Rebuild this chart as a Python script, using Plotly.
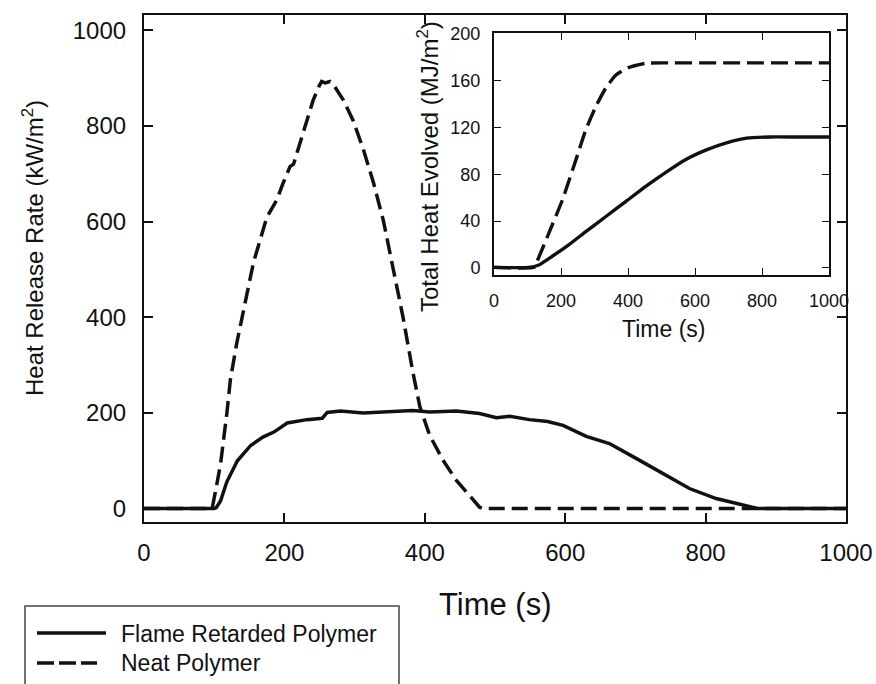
import plotly.graph_objects as go

# ---------------- data ----------------
series_names = ["Flame Retarded Polymer", "Neat Polymer"]

# Main chart: heat release rate (kW/m2) vs time (s)
time_fr = [0, 100, 103, 109, 118, 133, 152, 170, 185, 204, 232, 254, 261, 280, 312, 350,
           383, 407, 445, 478, 502, 521, 549, 575, 597, 630, 663, 701, 739, 777, 815, 848, 875, 1000]
hrr_fr = [0, 0, 2, 16, 56, 100, 132, 150, 160, 179, 186, 189, 201, 204, 200, 202,
          205, 202, 204, 199, 190, 193, 186, 182, 174, 151, 136, 105, 73, 42, 21, 9, 0, 0]

time_neat = [0, 97, 103, 109, 118, 123, 132, 142, 156, 175, 183, 189, 198, 208, 213, 227, 241,
             250, 253, 258, 265, 270, 284, 298, 312, 327, 341, 355, 369, 383, 393, 407, 426,
             445, 464, 478, 483, 1000]
hrr_neat = [0, 0, 45, 93, 199, 269, 345, 414, 515, 609, 630, 645, 680, 715, 720, 789, 854,
            885, 893, 890, 893, 886, 854, 811, 753, 681, 602, 501, 400, 285, 213, 153, 101,
            59, 28, 3, 0, 0]

# Inset: total heat evolved (MJ/m2) vs time (s)
time_the_fr = [0, 104, 134, 174, 224, 274, 334, 394, 454, 514, 574, 634, 694, 754, 824, 900, 1000]
the_fr = [0.5, 0.5, 2.6, 10, 20, 31, 44, 57, 70, 82, 93, 101, 107, 111, 112, 112, 112]

time_the_neat = [0, 120, 124, 164, 204, 244, 274, 304, 334, 364, 399, 454, 520, 700, 1000]
the_neat = [0.5, 0.5, 2.6, 30, 58, 92, 118, 138, 154, 165, 171, 175, 175.3, 175.3, 175.3]

main_xticks = [0, 200, 400, 600, 800, 1000]
main_yticks = [0, 200, 400, 600, 800, 1000]
inset_xticks = [0, 200, 400, 600, 800, 1000]
inset_yticks = [0, 40, 80, 120, 160, 200]

# ---------------- layout helpers ----------------
W, H = 876, 684
L, R, T, B = 144, 846, 15, 522


def px(x):
    return (x - L) / (R - L)


def py(y):
    return (B - y) / (B - T)


FONT = "Liberation Sans, Arial, Helvetica, sans-serif"
INK = "#111111"

fig = go.Figure()

fig.add_trace(go.Scatter(x=time_neat, y=hrr_neat, mode="lines", name=series_names[1],
                         line=dict(color=INK, width=3.5, dash="16px,7px"),
                         xaxis="x", yaxis="y", showlegend=False))
fig.add_trace(go.Scatter(x=time_fr, y=hrr_fr, mode="lines", name=series_names[0],
                         line=dict(color=INK, width=3.5),
                         xaxis="x", yaxis="y", showlegend=False))

fig.add_trace(go.Scatter(x=time_the_neat, y=the_neat, mode="lines", name=series_names[1],
                         line=dict(color=INK, width=3.4, dash="17px,7px", shape="spline",
                                   smoothing=0.5),
                         xaxis="x2", yaxis="y2", showlegend=False))
fig.add_trace(go.Scatter(x=time_the_fr, y=the_fr, mode="lines", name=series_names[0],
                         line=dict(color=INK, width=3.4, shape="spline", smoothing=0.5),
                         xaxis="x2", yaxis="y2", showlegend=False))

axis_common = dict(showline=True, linecolor=INK, mirror="ticks", ticks="inside",
                   tickcolor=INK, showgrid=False, zeroline=False, color=INK)

fig.update_layout(
    width=W, height=H,
    margin=dict(l=L, r=W - R, t=T, b=H - B, autoexpand=False),
    paper_bgcolor="white", plot_bgcolor="white",
    font=dict(family=FONT, color=INK),
    xaxis=dict(domain=[0, 1], range=[0, 1000], tickvals=main_xticks, linewidth=2.2,
               ticklen=9, tickwidth=1.5, tickfont=dict(size=24), ticklabelstandoff=8,
               anchor="y", **axis_common),
    yaxis=dict(domain=[0, 1], range=[-28, 1032], tickvals=main_yticks, linewidth=2.2,
               ticklen=9, tickwidth=1.5, tickfont=dict(size=24), ticklabelstandoff=11,
               anchor="x", **axis_common),
    xaxis2=dict(domain=[px(494), px(829)], range=[0, 1000], tickvals=inset_xticks,
                linewidth=2, ticklen=7, tickwidth=1.3, tickfont=dict(size=18),
                ticklabelstandoff=8, anchor="y2", **axis_common),
    yaxis2=dict(domain=[py(275), py(33.3)], range=[-6, 200.6], tickvals=inset_yticks,
                linewidth=2, ticklen=7, tickwidth=1.3, tickfont=dict(size=18),
                ticklabelstandoff=8, anchor="x2", **axis_common),
    showlegend=False,
)

annotations = [
    # main axis titles
    dict(text="Time (s)", x=px(495), y=py(604), xref="paper", yref="paper",
         xanchor="center", yanchor="middle", showarrow=False, font=dict(size=31)),
    dict(text="Heat Release Rate (kW/m<sup>2</sup>)", x=px(33), y=py(248), xref="paper",
         yref="paper", xanchor="center", yanchor="middle", textangle=-90, showarrow=False,
         font=dict(size=24)),
    # inset axis titles
    dict(text="Time (s)", x=px(663), y=py(329), xref="paper", yref="paper",
         xanchor="center", yanchor="middle", showarrow=False, font=dict(size=23)),
    dict(text="Total Heat Evolved (MJ/m<sup>2</sup>)", x=px(428), y=py(167), xref="paper",
         yref="paper", xanchor="center", yanchor="middle", textangle=-90, showarrow=False,
         font=dict(size=24)),
    # legend texts
    dict(text=series_names[0], x=px(119), y=py(634), xref="paper", yref="paper",
         xanchor="left", yanchor="middle", showarrow=False, font=dict(size=23)),
    dict(text=series_names[1], x=px(119), y=py(663), xref="paper", yref="paper",
         xanchor="left", yanchor="middle", showarrow=False, font=dict(size=23)),
]
fig.update_layout(annotations=annotations)

shapes = [
    # legend frame (runs off the bottom of the page, as in the reference)
    dict(type="rect", xref="paper", yref="paper", x0=px(25), x1=px(399), y0=py(720),
         y1=py(606), line=dict(color="#444444", width=1.5), fillcolor="rgba(0,0,0,0)"),
    # legend samples
    dict(type="line", xref="paper", yref="paper", x0=px(37), x1=px(106), y0=py(633),
         y1=py(633), line=dict(color=INK, width=3.5)),
    dict(type="line", xref="paper", yref="paper", x0=px(37), x1=px(97), y0=py(663),
         y1=py(663), line=dict(color=INK, width=3.5, dash="17px,5px")),
]
fig.update_layout(shapes=shapes)

fig.write_html("out.html",
               config={"displayModeBar": False},
               post_script="document.body.style.margin='0';document.body.style.overflow='hidden';")
